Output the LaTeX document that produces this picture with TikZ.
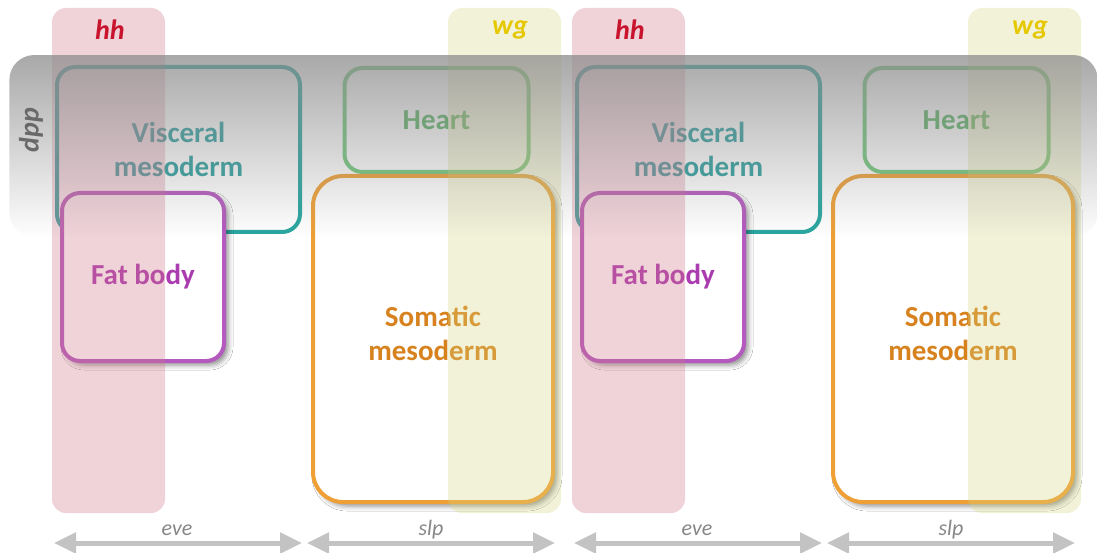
\documentclass[tikz,border=0pt]{standalone}
\usepackage{fontspec}
\setmainfont{Carlito}
\usetikzlibrary{arrows.meta,shadows.blur,fadings}
\definecolor{hhfill}{RGB}{210,120,140}
\definecolor{wgfill}{RGB}{215,215,130}
\definecolor{hhtext}{RGB}{200,20,45}
\definecolor{wgtext}{RGB}{230,200,0}
\definecolor{dppgray}{RGB}{140,140,140}
\definecolor{dpptext}{RGB}{105,105,105}
\definecolor{teal}{RGB}{40,165,160}
\definecolor{tealtext}{RGB}{45,160,160}
\definecolor{heartc}{RGB}{115,200,125}
\definecolor{hearttext}{RGB}{90,180,100}
\definecolor{fatc}{RGB}{180,90,190}
\definecolor{fattext}{RGB}{170,60,175}
\definecolor{somc}{RGB}{238,160,55}
\definecolor{somtext}{RGB}{215,130,30}
\definecolor{arrowgray}{RGB}{195,195,195}
\definecolor{regtext}{RGB}{135,135,135}
\tikzfading[name=dppfade, top color=transparent!25, bottom color=transparent!100]
\begin{document}
\begin{tikzpicture}[x=1pt,y=-1pt,
  lbl/.style={font=\fontsize{29}{34}\selectfont\bfseries, align=center},
  organ/.style={draw, line width=4pt, rounded corners=18pt, inner sep=0pt},
  shd/.style={blur shadow={shadow xshift=4pt, shadow yshift=-4pt, shadow blur radius=5pt, shadow opacity=45}},
  band/.style={rounded corners=14pt, inner sep=0pt, minimum width=113pt, minimum height=505pt},
  gene/.style={font=\fontsize{28}{30}\selectfont\bfseries\itshape},
  region/.style={font=\fontsize{22}{24}\selectfont\itshape, text=regtext},
  span/.style={draw=arrowgray, line width=5pt, {Triangle[length=22pt,width=20pt]}-{Triangle[length=22pt,width=20pt]}},
]
\useasboundingbox (0,0) rectangle (1097,553);
\clip (0,0) rectangle (1097,553);
\fill[white] (0,0) rectangle (1097,553);

\foreach \o/\i in {0/1,520/2}{
  % organ boxes
  \node[organ, draw=teal, text=tealtext, lbl, minimum width=243pt, minimum height=165pt] (vm\i) at (178.5+\o,149.5) {Visceral\\mesoderm};
  \node[organ, draw=heartc, text=hearttext, lbl, minimum width=184pt, minimum height=104pt] (ht\i) at (436.5+\o,120) {Heart};
  \node[organ, shd, draw=fatc, fill=white, text=fattext, lbl, minimum width=162pt, minimum height=168pt] (fb\i) at (143+\o,277) {Fat body};
  \node[organ, shd, draw=somc, fill=white, text=somtext, lbl, rounded corners=30pt, minimum width=240pt, minimum height=326pt] (sm\i) at (433+\o,339) {};
  \node[lbl, text=somtext] (smt\i) at (433+\o,333) {Somatic\\mesoderm};
  % gene bands
  \node[band, fill=hhfill, fill opacity=0.33] (hh\i) at (108.5+\o,260.5) {};
  \node[band, fill=wgfill, fill opacity=0.3] (wg\i) at (504.5+\o,260.5) {};
  % region arrows
  \coordinate (e\i a) at (54+\o,543);
  \coordinate (e\i b) at (302+\o,543);
  \coordinate (s\i a) at (307+\o,543);
  \coordinate (s\i b) at (555+\o,543);
  \draw[span] (e\i a) -- (e\i b);
  \draw[span] (s\i a) -- (s\i b);
  \node[region] (eve\i) at (177+\o,530) {eve};
  \node[region] (slp\i) at (431+\o,530) {slp};
}

% dpp overlay band
\node[fill=dppgray, path fading=dppfade, rounded corners=25pt, inner sep=0pt, minimum width=1090pt, minimum height=182pt] (dpp) at (555,146) {};

\foreach \o/\i in {0/1,520/2}{
  \node[gene, text=hhtext] (hhl\i) at (110+\o,30) {hh};
  \node[gene, text=wgtext] (wgl\i) at (510+\o,30) {wg};
}
\node[gene, text=dpptext, rotate=90] (dppl) at (31,130) {dpp};
\end{tikzpicture}
\end{document}
